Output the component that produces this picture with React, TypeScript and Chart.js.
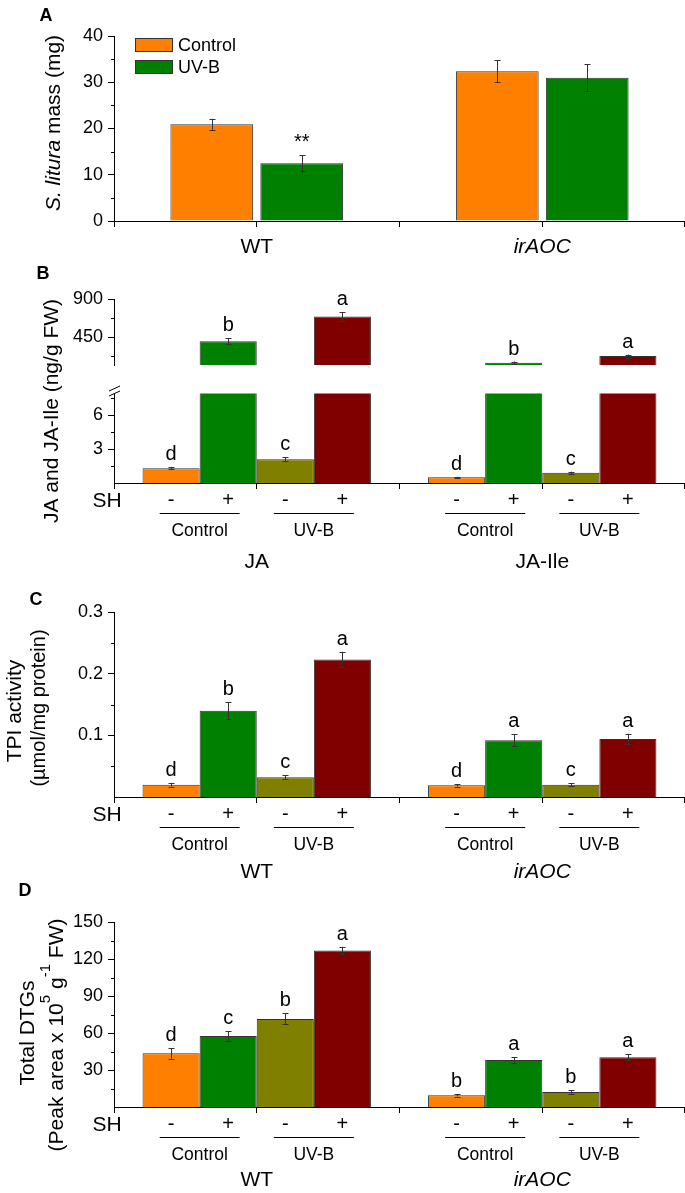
import React, { useEffect, useRef } from 'react';
import { Chart, registerables } from 'chart.js';

Chart.register(...registerables);

const FONT = '"Liberation Sans", Arial, Helvetica, sans-serif';

// ---------------- DATA ----------------
// Panel A
const A_CATEGORIES = ['WT', 'irAOC'];
const A_SERIES_LABELS = ['Control', 'UV-B'];
const A_CONTROL = [20.9, 32.4];
const A_CONTROL_ERR = [1.2, 2.4];
const A_CONTROL_MARKS = ['', ''];
const A_UVB = [12.5, 31.0];
const A_UVB_ERR = [1.7, 2.9];
const A_UVB_MARKS = ['**', ''];
const A_Y_TICKS = [0, 10, 20, 30, 40];
const A_Y_LABELS = ['0', '10', '20', '30', '40'];
const A_Y_MINOR = [5, 15, 25, 35];

// Shared treatment structure (B, C, D)
const SERIES_NAMES = ['Control SH -', 'Control SH +', 'UV-B SH -', 'UV-B SH +'];
const SH_SIGNS = ['-', '+', '-', '+'];
const TREATMENTS = ['Control', 'UV-B'];
const ITALIC_CATEGORIES = ['irAOC'];

// Panel B (JA and JA-Ile, ng/g FW)
const B_CATEGORIES = ['JA', 'JA-Ile'];
const B_CTRL_NOSH = [1.3, 0.5];
const B_CTRL_NOSH_ERR = [0.08, 0.05];
const B_CTRL_NOSH_MARKS = ['d', 'd'];
const B_CTRL_SH = [401, 148];
const B_CTRL_SH_ERR = [36, 13];
const B_CTRL_SH_MARKS = ['b', 'b'];
const B_UVB_NOSH = [2.1, 0.9];
const B_UVB_NOSH_ERR = [0.18, 0.1];
const B_UVB_NOSH_MARKS = ['c', 'c'];
const B_UVB_SH = [694, 226];
const B_UVB_SH_ERR = [50, 18];
const B_UVB_SH_MARKS = ['a', 'a'];
const B_UPPER_TICKS = [450, 900];
const B_UPPER_LABELS = ['450', '900'];
const B_UPPER_MINOR = [225, 675];
const B_LOWER_TICKS = [3, 6];
const B_LOWER_LABELS = ['3', '6'];
const B_LOWER_MINOR = [1.5, 4.5, 7.5];

// Panel C (TPI activity)
const C_CATEGORIES = ['WT', 'irAOC'];
const C_CTRL_NOSH = [0.020, 0.019];
const C_CTRL_NOSH_ERR = [0.003, 0.002];
const C_CTRL_NOSH_MARKS = ['d', 'd'];
const C_CTRL_SH = [0.140, 0.092];
const C_CTRL_SH_ERR = [0.0135, 0.0095];
const C_CTRL_SH_MARKS = ['b', 'a'];
const C_UVB_NOSH = [0.032, 0.020];
const C_UVB_NOSH_ERR = [0.003, 0.002];
const C_UVB_NOSH_MARKS = ['c', 'c'];
const C_UVB_SH = [0.223, 0.094];
const C_UVB_SH_ERR = [0.0125, 0.0085];
const C_UVB_SH_MARKS = ['a', 'a'];
const C_Y_TICKS = [0.1, 0.2, 0.3];
const C_Y_LABELS = ['0.1', '0.2', '0.3'];
const C_Y_MINOR = [0.05, 0.15, 0.25];

// Panel D (Total DTGs)
const D_CATEGORIES = ['WT', 'irAOC'];
const D_CTRL_NOSH = [43.5, 9.5];
const D_CTRL_NOSH_ERR = [4.3, 1.0];
const D_CTRL_NOSH_MARKS = ['d', 'b'];
const D_CTRL_SH = [57.6, 38.1];
const D_CTRL_SH_ERR = [4.0, 2.5];
const D_CTRL_SH_MARKS = ['c', 'a'];
const D_UVB_NOSH = [71.4, 12.2];
const D_UVB_NOSH_ERR = [4.5, 1.5];
const D_UVB_NOSH_MARKS = ['b', 'b'];
const D_UVB_SH = [126.8, 40.3];
const D_UVB_SH_ERR = [3.1, 2.5];
const D_UVB_SH_MARKS = ['a', 'a'];
const D_Y_TICKS = [30, 60, 90, 120, 150];
const D_Y_LABELS = ['30', '60', '90', '120', '150'];
const D_Y_MINOR = [15, 45, 75, 105, 135];

// ---------------- STYLE ----------------
const ORANGE = '#FF8000';
const GREEN = '#008000';
const OLIVE = '#808000';
const DARKRED = '#800000';
const BAR_BORDER = '#333333';
const ERR_COLOR = '#333333';
const AXIS_X = 114;
const W = 685;

type Series = { label: string; color: string; values: number[]; errors: number[]; marks: string[] };
type PanelCfg = {
  top: number;
  height: number;
  areaTop: number;
  areaBottom: number;
  categories: string[];
  series: Series[];
  yMin: number;
  yMax: number;
  yTicks: number[];
  yLabels: string[];
  yMinor: number[];
  catPct: number;
  barPct: number;
  showX: boolean;
  decorate?: (chart: any, T: number) => void;
};

function fnt(size: number, style = 'normal', weight = 'normal') {
  return `${style} ${weight} ${size}px ${FONT}`;
}

function capsText(ctx: CanvasRenderingContext2D, s: string, x: number, yc: number, size: number, opts: any = {}) {
  ctx.font = fnt(size, opts.style || 'normal', opts.weight || 'normal');
  ctx.textAlign = opts.align || 'center';
  ctx.textBaseline = 'alphabetic';
  ctx.fillStyle = '#000';
  ctx.fillText(s, x, yc + 0.358 * size);
}

type Run = { t: string; f: string; dy?: number };
function rotatedRuns(ctx: CanvasRenderingContext2D, runs: Run[], baselineX: number, centerY: number) {
  ctx.save();
  let total = 0;
  const widths = runs.map((r) => {
    ctx.font = r.f;
    const w = ctx.measureText(r.t).width;
    total += w;
    return w;
  });
  ctx.translate(baselineX, centerY);
  ctx.rotate(-Math.PI / 2);
  ctx.textBaseline = 'alphabetic';
  ctx.textAlign = 'left';
  ctx.fillStyle = '#000';
  let x = -total / 2;
  runs.forEach((r, i) => {
    ctx.font = r.f;
    ctx.fillText(r.t, x, r.dy || 0);
    x += widths[i];
  });
  ctx.restore();
}

function hline(ctx: CanvasRenderingContext2D, x1: number, x2: number, y: number) {
  ctx.beginPath();
  ctx.moveTo(x1, Math.round(y) + 0.5);
  ctx.lineTo(x2, Math.round(y) + 0.5);
  ctx.stroke();
}

function panelPlugin(cfg: PanelCfg) {
  return {
    id: 'panelDecor',
    afterDatasetsDraw(chart: any) {
      const ctx: CanvasRenderingContext2D = chart.ctx;
      const area = chart.chartArea;
      const ys = chart.scales.y;
      // error bars (clipped to plot area)
      ctx.save();
      ctx.beginPath();
      ctx.rect(area.left, area.top - 1, area.right - area.left, area.bottom - area.top + 1);
      ctx.clip();
      ctx.strokeStyle = ERR_COLOR;
      ctx.lineWidth = 1;
      cfg.series.forEach((s, i) => {
        const meta = chart.getDatasetMeta(i);
        s.values.forEach((v, j) => {
          const bar = meta.data[j];
          if (!bar) return;
          const e = s.errors[j];
          const x = Math.round(bar.x) + 0.5;
          const yT = ys.getPixelForValue(v + e);
          const yB = ys.getPixelForValue(v - e);
          ctx.beginPath();
          ctx.moveTo(x, yT);
          ctx.lineTo(x, yB);
          ctx.moveTo(x - 3, Math.round(yT) + 0.5);
          ctx.lineTo(x + 3, Math.round(yT) + 0.5);
          ctx.moveTo(x - 3, Math.round(yB) + 0.5);
          ctx.lineTo(x + 3, Math.round(yB) + 0.5);
          ctx.stroke();
        });
      });
      ctx.restore();
      // significance letters
      cfg.series.forEach((s, i) => {
        const meta = chart.getDatasetMeta(i);
        s.values.forEach((v, j) => {
          const bar = meta.data[j];
          const mark = s.marks[j];
          if (!bar || !mark) return;
          const yT = ys.getPixelForValue(v + s.errors[j]);
          if (yT < area.top - 0.5 || yT > area.bottom) return;
          ctx.font = fnt(20);
          ctx.textAlign = 'center';
          ctx.textBaseline = 'alphabetic';
          ctx.fillStyle = '#000';
          ctx.fillText(mark, bar.x, yT - 7);
        });
      });
    },
    afterDraw(chart: any) {
      const ctx: CanvasRenderingContext2D = chart.ctx;
      const area = chart.chartArea;
      const ys = chart.scales.y;
      ctx.save();
      ctx.strokeStyle = '#000';
      ctx.lineWidth = 1;
      // minor y ticks
      cfg.yMinor.forEach((v) => {
        const y = Math.round(ys.getPixelForValue(v)) + 0.5;
        ctx.beginPath();
        ctx.moveTo(area.left - 3, y);
        ctx.lineTo(area.left, y);
        ctx.stroke();
      });
      // x ticks at category centres and boundaries
      if (cfg.showX) {
        const xs = chart.scales.x;
        const n = cfg.categories.length;
        const step = (area.right - area.left) / n;
        const pos: number[] = [];
        for (let k = 0; k <= n; k++) pos.push(area.left + k * step);
        cfg.categories.forEach((_, j) => pos.push(xs.getPixelForValue(j)));
        pos.forEach((p) => {
          const x = Math.min(Math.floor(p) + 0.5, W - 0.5);
          ctx.beginPath();
          ctx.moveTo(x, area.bottom);
          ctx.lineTo(x, area.bottom + 6);
          ctx.stroke();
        });
      }
      ctx.restore();
      if (cfg.decorate) {
        ctx.save();
        cfg.decorate(chart, cfg.top);
        ctx.restore();
      }
    },
  };
}

function drawTreatmentAxis(chart: any, cfg: PanelCfg, groupDy: number) {
  const ctx: CanvasRenderingContext2D = chart.ctx;
  const area = chart.chartArea;
  const xs = chart.scales.x;
  const b = area.bottom;
  capsText(ctx, 'SH', 107, b + 16, 21);
  ctx.strokeStyle = '#000';
  ctx.lineWidth = 1;
  cfg.categories.forEach((cat, j) => {
    const px = cfg.series.map((_, i) => chart.getDatasetMeta(i).data[j].x);
    SH_SIGNS.forEach((sgn, i) => capsText(ctx, sgn, px[i], b + 16, 20));
    TREATMENTS.forEach((tr, k) => {
      const cx = (px[2 * k] + px[2 * k + 1]) / 2;
      hline(ctx, cx - 40, cx + 40, b + 30);
      capsText(ctx, tr, cx, b + 46.5, 17.5);
    });
    capsText(ctx, cat, xs.getPixelForValue(j), b + groupDy, 21, {
      style: ITALIC_CATEGORIES.includes(cat) ? 'italic' : 'normal',
    });
  });
}

function buildConfig(cfg: PanelCfg): any {
  const T = cfg.top;
  const H = cfg.height;
  return {
    type: 'bar',
    data: {
      labels: cfg.categories,
      datasets: cfg.series.map((s) => ({
        label: s.label,
        data: s.values,
        backgroundColor: s.color,
        borderColor: BAR_BORDER,
        borderWidth: 1,
        categoryPercentage: cfg.catPct,
        barPercentage: cfg.barPct,
        clip: 0,
      })),
    },
    options: {
      responsive: false,
      animation: false,
      devicePixelRatio: 1,
      events: [],
      layout: {
        padding: {
          left: 0,
          right: 0,
          top: cfg.areaTop - T,
          bottom: cfg.showX ? 0 : T + H - cfg.areaBottom,
        },
      },
      plugins: { legend: { display: false }, tooltip: { enabled: false } },
      scales: {
        x: {
          type: 'category',
          display: cfg.showX,
          offset: true,
          ticks: { display: false },
          grid: { display: false },
          border: { display: true, color: '#000', width: 1 },
          afterFit: (s: any) => {
            s.height = T + H - cfg.areaBottom;
          },
        },
        y: {
          type: 'linear',
          min: cfg.yMin,
          max: cfg.yMax,
          afterFit: (s: any) => {
            s.width = AXIS_X;
          },
          afterBuildTicks: (s: any) => {
            s.ticks = cfg.yTicks.map((v) => ({ value: v }));
          },
          ticks: {
            color: '#000',
            font: { family: FONT, size: 18 },
            padding: 5,
            callback: (_v: any, i: number) => cfg.yLabels[i],
          },
          grid: { display: true, drawOnChartArea: false, color: '#000', tickLength: 6, tickWidth: 1 },
          border: { display: true, color: '#000', width: 1 },
        },
      },
    },
    plugins: [panelPlugin(cfg)],
  };
}

function PanelCanvas({ cfg }: { cfg: PanelCfg }) {
  const ref = useRef<HTMLCanvasElement>(null);
  useEffect(() => {
    if (!ref.current) return;
    const chart = new Chart(ref.current, buildConfig(cfg));
    return () => chart.destroy();
  }, []);
  return (
    <canvas
      ref={ref}
      width={W}
      height={cfg.height}
      style={{ position: 'absolute', left: 0, top: cfg.top, width: W, height: cfg.height }}
    />
  );
}

// ---------------- PANELS ----------------
const aSeries: Series[] = [
  { label: A_SERIES_LABELS[0], color: ORANGE, values: A_CONTROL, errors: A_CONTROL_ERR, marks: A_CONTROL_MARKS },
  { label: A_SERIES_LABELS[1], color: GREEN, values: A_UVB, errors: A_UVB_ERR, marks: A_UVB_MARKS },
];

const bSeries: Series[] = [
  { label: SERIES_NAMES[0], color: ORANGE, values: B_CTRL_NOSH, errors: B_CTRL_NOSH_ERR, marks: B_CTRL_NOSH_MARKS },
  { label: SERIES_NAMES[1], color: GREEN, values: B_CTRL_SH, errors: B_CTRL_SH_ERR, marks: B_CTRL_SH_MARKS },
  { label: SERIES_NAMES[2], color: OLIVE, values: B_UVB_NOSH, errors: B_UVB_NOSH_ERR, marks: B_UVB_NOSH_MARKS },
  { label: SERIES_NAMES[3], color: DARKRED, values: B_UVB_SH, errors: B_UVB_SH_ERR, marks: B_UVB_SH_MARKS },
];

const cSeries: Series[] = [
  { label: SERIES_NAMES[0], color: ORANGE, values: C_CTRL_NOSH, errors: C_CTRL_NOSH_ERR, marks: C_CTRL_NOSH_MARKS },
  { label: SERIES_NAMES[1], color: GREEN, values: C_CTRL_SH, errors: C_CTRL_SH_ERR, marks: C_CTRL_SH_MARKS },
  { label: SERIES_NAMES[2], color: OLIVE, values: C_UVB_NOSH, errors: C_UVB_NOSH_ERR, marks: C_UVB_NOSH_MARKS },
  { label: SERIES_NAMES[3], color: DARKRED, values: C_UVB_SH, errors: C_UVB_SH_ERR, marks: C_UVB_SH_MARKS },
];

const dSeries: Series[] = [
  { label: SERIES_NAMES[0], color: ORANGE, values: D_CTRL_NOSH, errors: D_CTRL_NOSH_ERR, marks: D_CTRL_NOSH_MARKS },
  { label: SERIES_NAMES[1], color: GREEN, values: D_CTRL_SH, errors: D_CTRL_SH_ERR, marks: D_CTRL_SH_MARKS },
  { label: SERIES_NAMES[2], color: OLIVE, values: D_UVB_NOSH, errors: D_UVB_NOSH_ERR, marks: D_UVB_NOSH_MARKS },
  { label: SERIES_NAMES[3], color: DARKRED, values: D_UVB_SH, errors: D_UVB_SH_ERR, marks: D_UVB_SH_MARKS },
];

const panelA: PanelCfg = {
  top: 0,
  height: 268,
  areaTop: 36,
  areaBottom: 221,
  categories: A_CATEGORIES,
  series: aSeries,
  yMin: 0,
  yMax: 40,
  yTicks: A_Y_TICKS,
  yLabels: A_Y_LABELS,
  yMinor: A_Y_MINOR,
  catPct: 0.63,
  barPct: 0.92,
  showX: true,
  decorate: (chart, T) => {
    const ctx: CanvasRenderingContext2D = chart.ctx;
    const area = chart.chartArea;
    const xs = chart.scales.x;
    capsText(ctx, 'A', 46, 15 - T, 18, { weight: 'bold' });
    rotatedRuns(
      ctx,
      [
        { t: 'S. litura', f: fnt(21, 'italic') },
        { t: ' mass (mg)', f: fnt(21) },
      ],
      60,
      123 - T
    );
    // legend
    ctx.lineWidth = 1;
    aSeries.forEach((s, i) => {
      const y = 38 + i * 22 - T;
      ctx.fillStyle = s.color;
      ctx.fillRect(135, y, 38, 14);
      ctx.strokeStyle = BAR_BORDER;
      ctx.strokeRect(135.5, y + 0.5, 37, 13);
      capsText(ctx, s.label, 178, y + 7, 18, { align: 'left' });
    });
    A_CATEGORIES.forEach((cat, j) => {
      capsText(ctx, cat, xs.getPixelForValue(j), area.bottom + 24, 21, {
        style: ITALIC_CATEGORIES.includes(cat) ? 'italic' : 'normal',
      });
    });
  },
};

const panelBUpper: PanelCfg = {
  top: 255,
  height: 160,
  areaTop: 299,
  areaBottom: 390,
  categories: B_CATEGORIES,
  series: bSeries,
  yMin: 120,
  yMax: 900,
  yTicks: B_UPPER_TICKS,
  yLabels: B_UPPER_LABELS,
  yMinor: B_UPPER_MINOR,
  catPct: 0.8,
  barPct: 1.0,
  showX: false,
  decorate: (chart, T) => {
    capsText(chart.ctx, 'B', 43, 273 - T, 18, { weight: 'bold' });
  },
};

const panelBLower: PanelCfg = {
  top: 285,
  height: 290,
  areaTop: 393.5,
  areaBottom: 483,
  categories: B_CATEGORIES,
  series: bSeries,
  yMin: 0,
  yMax: 7.9,
  yTicks: B_LOWER_TICKS,
  yLabels: B_LOWER_LABELS,
  yMinor: B_LOWER_MINOR,
  catPct: 0.8,
  barPct: 1.0,
  showX: true,
  decorate: (chart, T) => {
    const ctx: CanvasRenderingContext2D = chart.ctx;
    rotatedRuns(ctx, [{ t: 'JA and JA-Ile (ng/g FW)', f: fnt(21) }], 58, 411 - T);
    // axis break marks
    ctx.strokeStyle = '#000';
    ctx.lineWidth = 1;
    ctx.beginPath();
    ctx.moveTo(109, 391 - T);
    ctx.lineTo(120, 386 - T);
    ctx.moveTo(109, 396 - T);
    ctx.lineTo(120, 391 - T);
    ctx.stroke();
    drawTreatmentAxis(chart, panelBLower, 77);
  },
};

const panelC: PanelCfg = {
  top: 585,
  height: 300,
  areaTop: 612,
  areaBottom: 797,
  categories: C_CATEGORIES,
  series: cSeries,
  yMin: 0,
  yMax: 0.3,
  yTicks: C_Y_TICKS,
  yLabels: C_Y_LABELS,
  yMinor: C_Y_MINOR,
  catPct: 0.8,
  barPct: 1.0,
  showX: true,
  decorate: (chart, T) => {
    const ctx: CanvasRenderingContext2D = chart.ctx;
    capsText(ctx, 'C', 36, 599 - T, 18, { weight: 'bold' });
    rotatedRuns(ctx, [{ t: 'TPI activity', f: fnt(21) }], 21, 711 - T);
    rotatedRuns(ctx, [{ t: '(\u00b5mol/mg protein)', f: fnt(20) }], 45, 708 - T);
    drawTreatmentAxis(chart, panelC, 73);
  },
};

const panelD: PanelCfg = {
  top: 880,
  height: 313,
  areaTop: 922,
  areaBottom: 1107,
  categories: D_CATEGORIES,
  series: dSeries,
  yMin: 0,
  yMax: 150,
  yTicks: D_Y_TICKS,
  yLabels: D_Y_LABELS,
  yMinor: D_Y_MINOR,
  catPct: 0.8,
  barPct: 1.0,
  showX: true,
  decorate: (chart, T) => {
    const ctx: CanvasRenderingContext2D = chart.ctx;
    capsText(ctx, 'D', 25, 890 - T, 18, { weight: 'bold' });
    rotatedRuns(ctx, [{ t: 'Total DTGs', f: fnt(21) }], 33.5, 1033 - T);
    rotatedRuns(
      ctx,
      [
        { t: '(Peak area x 10', f: fnt(21) },
        { t: '5', f: fnt(15), dy: -13 },
        { t: ' g', f: fnt(21) },
        { t: '-1', f: fnt(15), dy: -13 },
        { t: ' FW)', f: fnt(21) },
      ],
      63,
      1035 - T
    );
    drawTreatmentAxis(chart, panelD, 71.5);
  },
};

export default function App() {
  return (
    <div
      style={{
        position: 'absolute',
        left: 0,
        top: 0,
        width: W,
        height: 1193,
        background: '#fff',
        overflow: 'hidden',
      }}
    >
      <PanelCanvas cfg={panelA} />
      <PanelCanvas cfg={panelBUpper} />
      <PanelCanvas cfg={panelBLower} />
      <PanelCanvas cfg={panelC} />
      <PanelCanvas cfg={panelD} />
    </div>
  );
}
